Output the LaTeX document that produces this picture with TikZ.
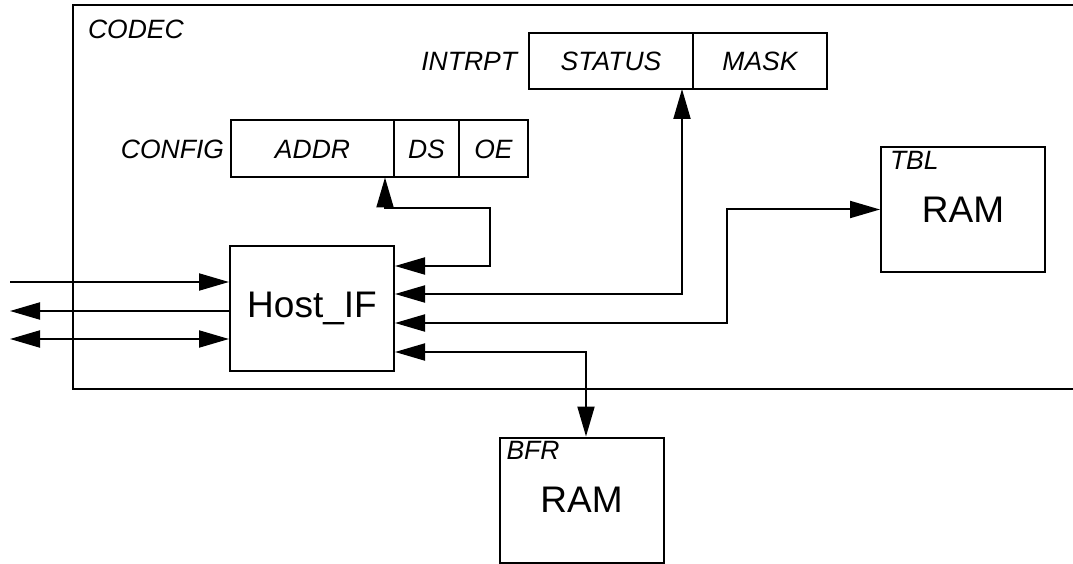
\documentclass[tikz,border=0pt]{standalone}
\usepackage{fontspec}
\setmainfont{Liberation Sans}
\usetikzlibrary{arrows.meta,positioning}
\tikzset{every picture/.append style={x=1pt, y=-1pt, line width=2pt}}
\tikzset{
    field/.style={draw, minimum height=57pt, inner sep=0pt, outer sep=0pt,
    	font=\fontsize{26.5}{29}\selectfont\itshape},
    block/.style={draw, minimum width=164pt, minimum height=125pt, inner sep=0pt,
    	font=\fontsize{37}{41}\selectfont},
    tag/.style={inner sep=0pt, font=\fontsize{26.5}{29}\selectfont\itshape},
    sig/.style={-{Triangle[length=30pt, width=17pt]}},
    bus/.style={{Triangle[length=30pt, width=17pt]}-{Triangle[length=30pt, width=17pt]}}
}

\begin{document}
\begin{tikzpicture}
  \useasboundingbox (0,0) rectangle (1073,564);
  \draw (1073,5) -- (73,5) -- (73,389) -- (1073,389);
  \node (codec) [tag, anchor=north west] at (87,19) {CODEC};

  \node (addr) [field, minimum width=163pt] at (312.5,149) {ADDR};
  \node (ds) [field, minimum width=65pt, right=0pt of addr] {DS};
  \node (oe) [field, minimum width=69pt, right=0pt of ds] {OE};
  \node (config) [tag, left=6pt of addr] {CONFIG};

  \node (status) [field, minimum width=164pt, minimum height=56pt] at (611,61) {STATUS};
  \node (mask) [field, minimum width=134pt, minimum height=56pt, right=0pt of status] {MASK};
  \node (intrpt) [tag, left=11pt of status] {INTRPT};

  \node (hostif) [block] at (312,308.5) {Host\_IF};
  \node (tbl) [block] at (963,209.5) {RAM};
  \node (tbltag) [tag, anchor=north west] at ([shift={(9,4)}]tbl.north west) {TBL};
  \node (bfr) [block] at (581.5,500) {RAM};
  \node (bfrtag) [tag, anchor=north west] at ([shift={(7,4)}]bfr.north west) {BFR};

  \coordinate (in1) at (10,282);
  \coordinate (out1) at (10,311);
  \coordinate (bi1) at (10,339);
  \draw [sig] (in1) -- (in1 -| hostif.west);
  \draw [sig] (hostif.west |- out1) -- (out1);
  \draw [bus] (bi1) -- (bi1 -| hostif.west);

  \coordinate (p1) at (490,266);
  \coordinate (p2) at (682,294);
  \coordinate (p3) at (727,323);
  \coordinate (p4) at (586,352);
  \coordinate (cfgbend) at (385,208);
  \draw [bus] (p1 -| hostif.east) -- (p1) |- (cfgbend) -- (cfgbend |- addr.south);
  \draw [bus] (p2 -| hostif.east) -- (p2) -- (p2 |- status.south);
  \draw [bus] (p3 -| hostif.east) -- (p3) |- (tbl.west);
  \draw [bus] (p4 -| hostif.east) -- (p4) -- (p4 |- bfr.north);
\end{tikzpicture}
\end{document}
